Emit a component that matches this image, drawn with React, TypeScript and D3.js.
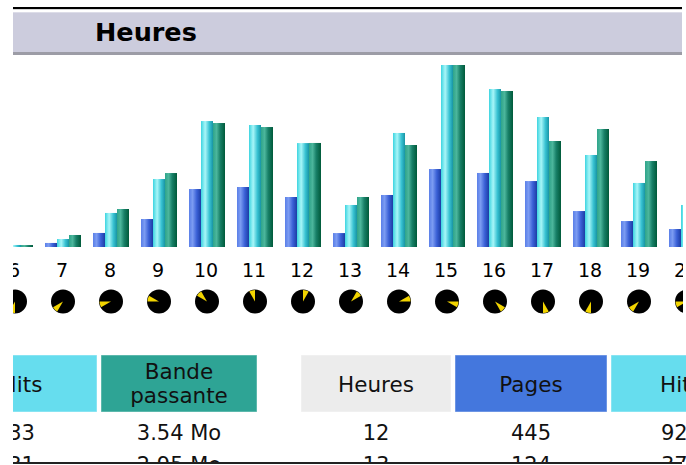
import { useMemo } from "react";
import * as d3 from "d3";

// ── Data ────────────────────────────────────────────────────────────────
const HOURS = [6, 7, 8, 9, 10, 11, 12, 13, 14, 15, 16, 17, 18, 19, 20];
const PAGES = [6, 36, 125, 249, 516, 534, 445, 124, 463, 694, 659, 587, 320, 231, 160];
const HITS = [18, 71, 303, 605, 1121, 1086, 925, 374, 1015, 1620, 1406, 1157, 819, 570, 374];
const BANDWIDTH_MO = [0.27, 1.65, 5.22, 10.16, 17.03, 16.48, 14.29, 6.87, 14.01, 25.0, 21.43, 14.56, 16.21, 11.81, 9.6];

// left table fragment (hours 0–1 : only Hits + Bande passante visible)
const LEFT_HITS = [33, 31];
const LEFT_BANDWIDTH_MO = [3.54, 2.95];
// right table fragment (hours 12–13)
const RIGHT_HOURS = [12, 13];

const SERIES = ["pages", "hits", "bandwidth"];

// ── Layout ───────────────────────────────────────────────────────────────
const W = 686;
const H = 465;
const CLIP_X0 = 13;
const CLIP_X1 = 682;
const BASE_Y = 247;
const TOP_Y = 65;
const LABEL_Y = 277;
const CLOCK_Y = 301.5;
const CLOCK_R = 12;
const HEAD_Y = 355;
const HEAD_H = 57;
const ROW_Y = 440;
const ROW_STEP = 32;
const FONT = "'DejaVu Sans', Verdana, sans-serif";

const COLORS = {
  pages: "#4477DD",
  hits: "#66DDEE",
  bandwidth: "#2EA495",
  hours: "#ECECEC",
  band: "#CCCCDD",
};

export default function App() {
  const x = useMemo(
    () =>
      d3
        .scaleBand<number>()
        .domain(HOURS)
        .range([-9, -9 + HOURS.length * 48])
        .paddingInner(0.25)
        .paddingOuter(0.125),
    [],
  );
  const xs = d3.scaleBand<string>().domain(SERIES).range([0, x.bandwidth()]);
  const yHits = d3.scaleLinear().domain([0, d3.max(HITS) as number]).range([BASE_Y, TOP_Y]);
  const yBw = d3.scaleLinear().domain([0, d3.max(BANDWIDTH_MO) as number]).range([BASE_Y, TOP_Y]);
  const arc = d3.arc<any>();

  const fmtMo = (v: number) => `${v.toFixed(2)} Mo`;

  // header cells of the two table fragments
  const cells = [
    { x0: -54, x1: 97, fill: COLORS.hits, lines: ["Hits"] },
    { x0: 101, x1: 257, fill: COLORS.bandwidth, lines: ["Bande", "passante"] },
    { x0: 301, x1: 451, fill: COLORS.hours, lines: ["Heures"] },
    { x0: 455, x1: 607, fill: COLORS.pages, lines: ["Pages"] },
    { x0: 611, x1: 751, fill: COLORS.hits, lines: ["Hits"] },
  ];
  const cx = (i: number) => (cells[i].x0 + cells[i].x1) / 2;

  const rows: string[][] = [];
  LEFT_HITS.forEach((h, i) => {
    const hr = RIGHT_HOURS[i];
    const k = HOURS.indexOf(hr);
    rows.push([String(h), fmtMo(LEFT_BANDWIDTH_MO[i]), String(hr), String(PAGES[k]), String(HITS[k])]);
  });

  return (
    <svg
      width={W}
      height={H}
      style={{ position: "absolute", left: 0, top: 0, background: "#fff" }}
      fontFamily={FONT}
    >
      <defs>
        <clipPath id="clip">
          <rect x={CLIP_X0} y={0} width={CLIP_X1 - CLIP_X0 + 1} height={462} />
        </clipPath>
        <clipPath id="clip-table">
          <rect x={CLIP_X0} y={0} width={W - CLIP_X0} height={462} />
        </clipPath>
        <linearGradient id="g-pages" x1="0" x2="1" y1="0" y2="0">
          <stop offset="0" stopColor="#5a7fe8" />
          <stop offset="0.3" stopColor="#7c9cf2" />
          <stop offset="0.65" stopColor="#3a60d6" />
          <stop offset="1" stopColor="#1c3ca4" />
        </linearGradient>
        <linearGradient id="g-hits" x1="0" x2="1" y1="0" y2="0">
          <stop offset="0" stopColor="#3cd4e0" />
          <stop offset="0.35" stopColor="#a8f6f8" />
          <stop offset="0.7" stopColor="#38c2d2" />
          <stop offset="1" stopColor="#1894a4" />
        </linearGradient>
        <linearGradient id="g-bandwidth" x1="0" x2="1" y1="0" y2="0">
          <stop offset="0" stopColor="#2ea48a" />
          <stop offset="0.3" stopColor="#4cb69c" />
          <stop offset="0.6" stopColor="#188068" />
          <stop offset="1" stopColor="#005a3a" />
        </linearGradient>
      </defs>

      {/* ── frame lines ── */}
      <rect x={CLIP_X0} y={7} width={CLIP_X1 - CLIP_X0} height={2} fill="#000" />
      <rect x={CLIP_X0} y={9} width={CLIP_X1 - CLIP_X0} height={1} fill="#d8d8d8" />

      <g clipPath="url(#clip)">
        {/* ── title band ── */}
        <rect x={CLIP_X0} y={12} width={CLIP_X1 - CLIP_X0} height={41} fill={COLORS.band} />
        <rect x={CLIP_X0} y={12} width={CLIP_X1 - CLIP_X0} height={1} fill="#dcdce8" />
        <rect x={CLIP_X0} y={52} width={CLIP_X1 - CLIP_X0} height={3} fill="#9c9ca6" />
        <text x={95} y={41} fontSize={25.5} fontWeight="bold" fill="#000">
          Heures
        </text>

        {/* ── bars ── */}
        {HOURS.map((h, i) => {
          const gx = x(h) as number;
          const vals: [string, number][] = [
            ["pages", yHits(PAGES[i])],
            ["hits", yHits(HITS[i])],
            ["bandwidth", yBw(BANDWIDTH_MO[i])],
          ];
          return (
            <g key={h}>
              {vals.map(([s, y]) => (
                <rect
                  key={s}
                  x={gx + (xs(s) as number)}
                  y={y}
                  width={xs.bandwidth()}
                  height={BASE_Y - y}
                  fill={`url(#g-${s})`}
                />
              ))}
            </g>
          );
        })}

        {/* ── hour labels + clocks ── */}
        {HOURS.map((h) => {
          const c = (x(h) as number) + x.bandwidth() / 2;
          const a = ((h % 12) + 0.5) * (Math.PI / 6);
          return (
            <g key={h}>
              <text x={c - 1} y={LABEL_Y} fontSize={19} textAnchor="middle" fill="#000">
                {h}
              </text>
              <g transform={`translate(${c},${CLOCK_Y})`}>
                <circle r={CLOCK_R} fill="#000" />
                <path
                  d={
                    arc({
                      innerRadius: 0,
                      outerRadius: CLOCK_R - 0.5,
                      startAngle: a - 0.26,
                      endAngle: a + 0.26,
                    }) as string
                  }
                  fill="#f2d400"
                />
              </g>
            </g>
          );
        })}
      </g>

      <g clipPath="url(#clip-table)">
        {/* ── table header cells ── */}
        {cells.map((c, i) => (
          <g key={i}>
            <rect
              x={c.x0}
              y={HEAD_Y}
              width={c.x1 - c.x0}
              height={HEAD_H}
              fill={c.fill}
              stroke="rgba(255,255,255,0.45)"
              strokeWidth={1}
            />
            {c.lines.length === 1 ? (
              <text x={cx(i)} y={392} fontSize={21.5} textAnchor="middle" fill="#111">
                {c.lines[0]}
              </text>
            ) : (
              c.lines.map((l, j) => (
                <text key={j} x={cx(i)} y={379 + j * 24} fontSize={21.5} textAnchor="middle" fill="#111">
                  {l}
                </text>
              ))
            )}
          </g>
        ))}

        {/* ── table rows ── */}
        {rows.map((r, ri) =>
          r.map((v, ci) => (
            <text
              key={`${ri}-${ci}`}
              x={cx(ci)}
              y={ROW_Y + ri * ROW_STEP}
              fontSize={21}
              textAnchor="middle"
              fill="#111"
            >
              {v}
            </text>
          )),
        )}
      </g>

      {/* ── bottom frame line ── */}
      <rect x={CLIP_X0} y={462} width={CLIP_X1 - CLIP_X0} height={2} fill="#222" />
    </svg>
  );
}
